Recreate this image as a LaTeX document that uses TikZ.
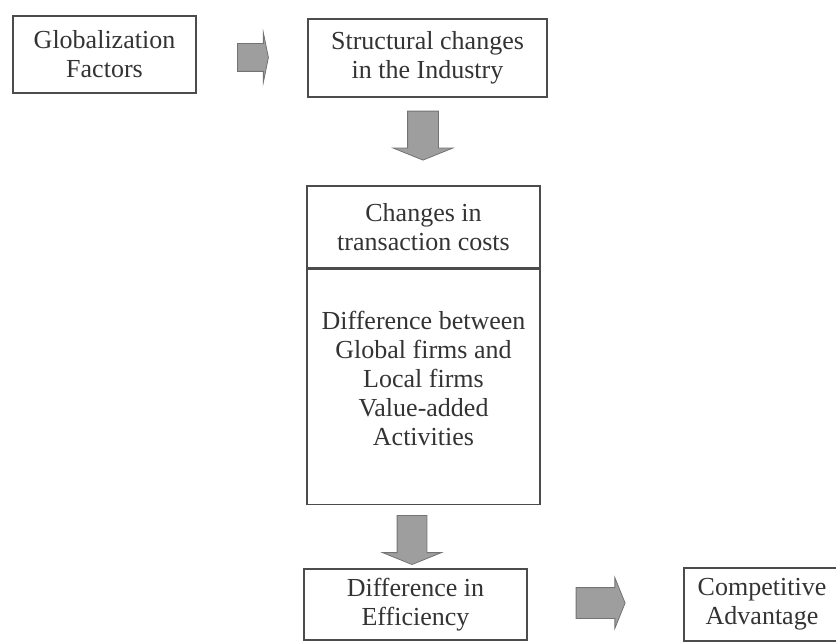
\documentclass[tikz,border=0pt]{standalone}
\usepackage{fontspec}
\setmainfont{Liberation Serif}
\usetikzlibrary{positioning,shapes.arrows}

\begin{document}
\begin{tikzpicture}[x=0.5pt, y=-0.5pt,
	box/.style={draw=black!70, line width=0.6pt, rectangle, align=center, text=black!80,
		font=\fontsize{13}{14.5}\selectfont, inner sep=2pt},
	blockarrow/.style={single arrow, draw=black!55, fill=black!38, line width=0.4pt,
		inner xsep=0pt, inner ysep=7.5pt, text height=0pt, text depth=0pt,
		minimum height=24.5pt, single arrow head extend=7.25pt, single arrow tip angle=136},
	downarrow/.style={blockarrow, shape border rotate=270, inner xsep=7.5pt, inner ysep=0pt}]
				\clip (0,0) rectangle (836,642);
				\node[box, minimum width=91.5pt, minimum height=38.5pt] (glob)at(104.5, 54.5) {Globalization\\Factors};
				\node[box, minimum width=119.5pt, minimum height=39pt] (struct)at(427.5, 58) {Structural changes\\in the Industry};
				\node[box, minimum width=116.5pt, minimum height=41pt] (trans)at(423.5, 227) {Changes in\\transaction costs};
				\node[box, below=0pt of trans, minimum width=116.5pt, minimum height=117.5pt, text depth=8pt] (firms) {Difference between\\Global firms and\\Local firms\\Value-added\\Activities};
				\node[box, minimum width=111.5pt, minimum height=35.5pt] (eff)at(415.5, 604.5) {Difference in\\Efficiency};
				\node[box, minimum width=78pt, minimum height=36.5pt] (comp)at(762, 604.5) {Competitive\\Advantage};
				\node[blockarrow, minimum height=15.5pt, inner ysep=6.75pt, single arrow head extend=5.5pt, single arrow tip angle=157] (ga)at(251.5, 57.5) {};
				\node[downarrow] (sa)at(423, 132.5) {};
				\node[downarrow, inner xsep=7.25pt] (fa)at(412, 537) {};
				\node[blockarrow, single arrow head extend=5pt] (ea)at(597.5, 603) {};
			\end{tikzpicture}
\end{document}
